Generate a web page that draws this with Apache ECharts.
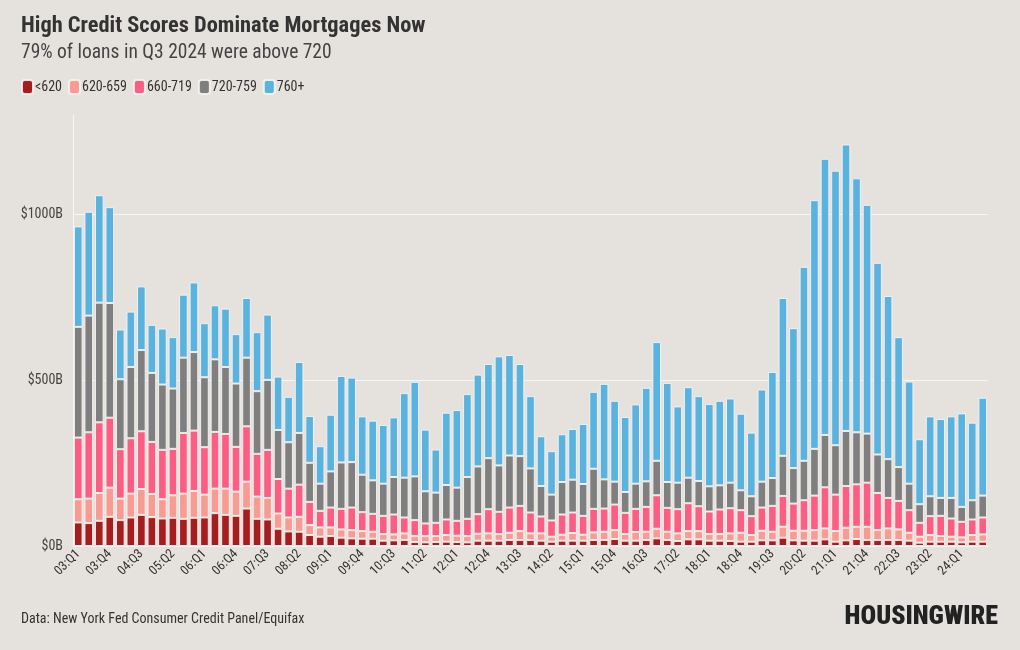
<!DOCTYPE html>
<html>
<head>
<meta charset="utf-8">
<script src="https://cdn.jsdelivr.net/npm/echarts@6/dist/echarts.min.js"></script>
<style>
html,body{margin:0;padding:0;background:#e5e2de;}
#chart{width:1020px;height:650px;}
</style>
</head>
<body>
<div id="chart"></div>
<script>
const categories = [
"03:Q1","03:Q2","03:Q3","03:Q4","04:Q1","04:Q2","04:Q3","04:Q4","05:Q1","05:Q2","05:Q3","05:Q4",
"06:Q1","06:Q2","06:Q3","06:Q4","07:Q1","07:Q2","07:Q3","07:Q4","08:Q1","08:Q2","08:Q3","08:Q4",
"09:Q1","09:Q2","09:Q3","09:Q4","10:Q1","10:Q2","10:Q3","10:Q4","11:Q1","11:Q2","11:Q3","11:Q4",
"12:Q1","12:Q2","12:Q3","12:Q4","13:Q1","13:Q2","13:Q3","13:Q4","14:Q1","14:Q2","14:Q3","14:Q4",
"15:Q1","15:Q2","15:Q3","15:Q4","16:Q1","16:Q2","16:Q3","16:Q4","17:Q1","17:Q2","17:Q3","17:Q4",
"18:Q1","18:Q2","18:Q3","18:Q4","19:Q1","19:Q2","19:Q3","19:Q4","20:Q1","20:Q2","20:Q3","20:Q4",
"21:Q1","21:Q2","21:Q3","21:Q4","22:Q1","22:Q2","22:Q3","22:Q4","23:Q1","23:Q2","23:Q3","23:Q4",
"24:Q1","24:Q2","24:Q3"];

const seriesNames = ["<620","620-659","660-719","720-759","760+"];

// $ billions
const below620 = [71,69,76,88,78,86,94,87,83,85,82,85,86,99,94,91,113,82,80,52,44,43,33,28,30,25,23,22,22,16,17,18,12,11,12,13,12,11,16,16,16,18,18,18,16,13,16,16,16,18,18,21,16,16,18,23,18,15,20,20,16,16,15,13,13,17,17,25,17,16,16,20,13,17,21,18,18,18,18,16,10,13,13,13,11,13,13];
const s620_659 = [70,74,84,88,65,72,78,70,58,68,76,81,69,74,79,73,81,67,65,46,42,45,30,28,26,25,25,23,21,20,18,20,18,19,18,20,19,19,21,22,20,22,27,20,22,15,18,23,18,23,25,27,20,26,25,29,25,23,25,25,20,20,23,27,20,29,26,33,29,30,32,33,32,38,37,40,30,35,32,24,18,20,17,15,15,20,22];
const s660_719 = [186,200,213,211,149,167,174,157,149,140,183,182,143,171,165,135,167,129,145,104,87,97,70,50,60,62,68,57,54,55,60,48,48,38,40,47,45,52,59,73,67,76,76,63,51,49,61,62,57,71,70,77,64,70,75,101,72,73,84,75,68,74,76,68,57,70,78,93,82,92,104,124,110,126,128,133,112,92,86,68,42,57,61,55,47,47,51];
const s720_759 = [334,352,361,346,211,215,245,208,197,182,227,237,211,219,202,191,207,189,211,148,140,156,118,82,109,140,137,113,101,97,113,120,132,97,91,104,100,126,144,154,140,157,150,133,92,78,98,99,96,121,88,69,63,76,77,104,78,80,77,76,76,73,77,60,60,78,84,121,107,119,141,158,149,166,157,148,116,117,102,80,56,60,54,62,45,58,66];
const s760plus = [303,313,324,289,150,167,192,145,169,155,190,210,163,163,176,149,180,178,197,161,137,214,141,113,171,261,255,176,180,177,180,255,285,186,130,218,234,250,277,284,329,303,278,218,150,131,144,153,181,232,288,244,226,239,282,358,299,230,273,256,248,255,254,231,192,278,320,476,422,585,750,833,828,864,766,690,578,492,392,308,196,241,238,246,282,234,295];

const colors = ["#a51d1f","#f79b93","#fb5d83","#807f7f","#5ab3df"];
const yTicks = {min:0, max:1300, interval:500};

const FONT = "'Roboto Condensed','Liberation Sans Narrow','DejaVu Sans Condensed',Roboto,sans-serif";
const dataSets = [below620, s620_659, s660_719, s720_759, s760plus];

const chart = echarts.init(document.getElementById('chart'), null, {renderer:'canvas'});
const option = {
  backgroundColor:'#e5e2de',
  textStyle:{fontFamily:FONT},
  animation:false,
  title:[
    {text:'High Credit Scores Dominate Mortgages Now', left:16, top:10,
     textStyle:{fontFamily:FONT, fontSize:22.4, fontWeight:'bold', color:'#333'}},
    {text:'79% of loans in Q3 2024 were above 720', left:16, top:38,
     textStyle:{fontFamily:FONT, fontSize:19.5, fontWeight:'normal', color:'#444'}},
    {text:'Data: New York Fed Consumer Credit Panel/Equifax', left:16, top:607,
     textStyle:{fontFamily:FONT, fontSize:14, fontWeight:'normal', color:'#333'}},
    {text:'HOUSINGWIRE', right:17, top:599,
     textStyle:{fontFamily:FONT, fontSize:26, fontWeight:900, color:'#222'}}
  ],
  legend:{
    left:16, top:74, itemWidth:11, itemHeight:14, itemGap:6, icon:'roundRect',
    textStyle:{fontFamily:FONT, fontSize:14, color:'#333', padding:[0,0,0,-3]},
    data:seriesNames
  },
  grid:{left:73, right:32, top:115, bottom:104, containLabel:false},
  xAxis:{
    type:'category', data:categories,
    axisLine:{show:false}, axisTick:{show:false},
    axisLabel:{interval:2, rotate:45, fontFamily:FONT, fontSize:13, color:'#333', margin:6}
  },
  yAxis:{
    type:'value', min:yTicks.min, max:yTicks.max, interval:yTicks.interval,
    axisLine:{show:true, lineStyle:{color:'#f7f6f4', width:1}},
    axisTick:{show:false},
    axisLabel:{fontFamily:FONT, fontSize:14, color:'#444', margin:10, showMaxLabel:false,
      formatter:function(v){return '$'+v+'B';}},
    splitLine:{show:true, showMaxLine:false, lineStyle:{color:'#f7f6f4', width:1}}
  },
  series: seriesNames.map(function(name,i){
    return {
      name:name, type:'bar', stack:'total', data:dataSets[i],
      barCategoryGap:'18%',
      itemStyle:{color:colors[i], borderColor:'rgba(245,244,242,0.9)', borderWidth:1}
    };
  })
};
chart.setOption(option);
</script>
</body>
</html>
